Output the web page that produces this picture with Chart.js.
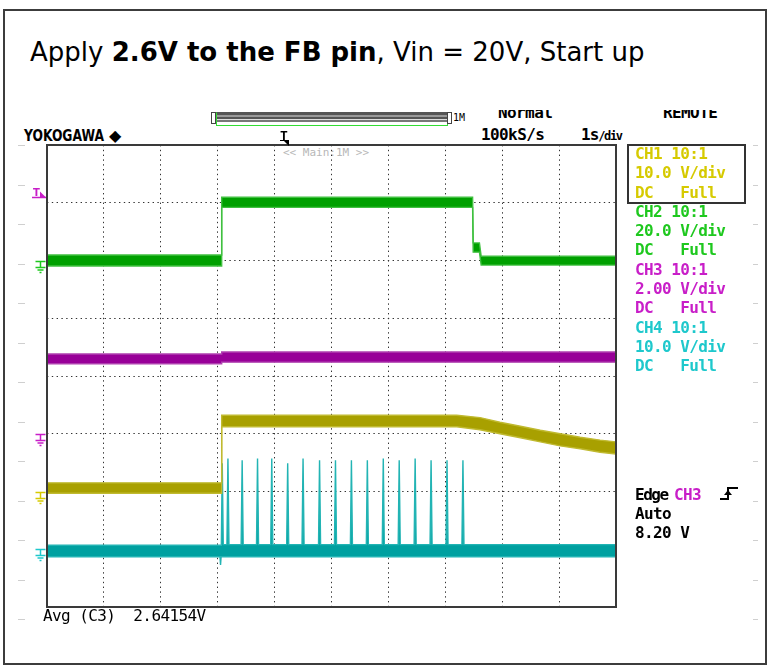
<!DOCTYPE html>
<html>
<head>
<meta charset="utf-8">
<title>Apply 2.6V to the FB pin, Vin = 20V, Start up</title>
<script src="https://cdn.jsdelivr.net/npm/chart.js@4.4.1/dist/chart.umd.min.js"></script>
<style>
  html, body { margin: 0; padding: 0; background: #fff; }
  #wrap { position: relative; width: 775px; height: 670px; overflow: hidden; }
  #frame { position: absolute; left: 3px; top: 9px; width: 764px; height: 656px; border: 2px solid #3c3c3c; box-sizing: border-box; }
  #scope { position: absolute; left: 0; top: 0; }
  #title { position: absolute; left: 30px; top: 39px; font-family: 'DejaVu Sans', sans-serif; font-size: 26px; line-height: 26px; color: #000; white-space: pre; }
  .lbl { position: absolute; white-space: pre; font-family: 'DejaVu Sans Mono', monospace; font-size: 16px; line-height: 16px; letter-spacing: -0.6px; color: #000; }
  .b { font-weight: bold; }
  .clip { position: absolute; overflow: hidden; height: 14px; top: 110px; }
  #panel { position: absolute; left: 635px; top: 144px; line-height: 19.3px; }
  #panelBox { position: absolute; left: 627px; top: 144px; width: 119px; height: 60px; border: 2px solid #333; box-sizing: border-box; }
  #yoko { position: absolute; left: 24px; top: 129px; font-family: 'DejaVu Sans', sans-serif; font-weight: bold; font-size: 15px; line-height: 15px; transform: scaleX(0.82); transform-origin: left top; white-space: pre; }
  #diamond { position: absolute; left: 109px; top: 128px; font-family: 'DejaVu Sans', sans-serif; font-size: 16px; line-height: 16px; }
  #main { position: absolute; left: 283px; top: 147px; font-family: 'DejaVu Sans Mono', monospace; font-size: 11px; line-height: 11px; color: #b8b8b8; white-space: pre; }
  #zbar { position: absolute; left: 216px; top: 112px; width: 232px; height: 14px; box-sizing: border-box; border: 1px solid #3d3; border-top-color: #555;
          background: linear-gradient(to bottom, #555 0 2px, #999 2px 4px, #555 4px 6px, #ddd 6px 7px, #777 7px 9px, #fff 9px 12px); }
  .zbox { position: absolute; top: 112px; width: 5px; height: 12px; border: 1px solid #444; box-sizing: border-box; background: #fff; }
</style>
</head>
<body>
<div id="wrap">
  <div id="frame"></div>
  <div id="title">Apply <b>2.6V to the FB pin</b>, Vin = 20V, Start up</div>

  <div class="zbox" style="left:211px"></div>
  <div id="zbar"></div>
  <div class="zbox" style="left:447px"></div>
  <div class="lbl" style="left:453px; top:113px; font-size:10px; line-height:10px; letter-spacing:0">1M</div>

  <div class="clip" style="left:498px; width:70px"><div class="lbl b" style="left:0; top:-5px">Normal</div></div>
  <div class="clip" style="left:663px; width:70px"><div class="lbl b" style="left:0; top:-5px">REMOTE</div></div>
  <div class="lbl b" style="left:481px; top:127px">100kS/s</div>
  <div class="lbl b" style="left:581px; top:127px; letter-spacing:-1px">1s<span style="font-size:12px; letter-spacing:-1.4px">/div</span></div>

  <div id="yoko">YOKOGAWA</div>
  <div id="diamond">&#9670;</div>
  <div id="main">&lt;&lt; Main:1M &gt;&gt;</div>

  <canvas id="scope" width="775" height="670"></canvas>

  <div id="panelBox"></div>
  <div id="panel" class="lbl b"></div>

  <div class="lbl b" style="left:635px; top:487px; letter-spacing:-1.5px">Edge</div>
  <div class="lbl b" id="trigSrc" style="left:674px; top:487px"></div>
  <svg style="position:absolute; left:719px; top:486px" width="22" height="16">
    <polyline points="1,13 9,13 9,2 19,2" fill="none" stroke="#000" stroke-width="2"/>
    <path d="M5,9 L9,4 L13,9 Z" fill="#000"/>
  </svg>
  <div class="lbl b" style="left:635px; top:506px">Auto</div>
  <div class="lbl b" id="trigLevel" style="left:635px; top:525px"></div>

  <div class="lbl" id="avg" style="left:43px; top:608px"></div>
</div>

<script>
// screen: 10 div x 1 s/div, 8 vertical div
const timeRange = [0, 10];
const divRange = [-4, 4];

// channel setup (CH1..CH4)
const chNames = ['CH1', 'CH2', 'CH3', 'CH4'];
const chProbe = ['10:1', '10:1', '10:1', '10:1'];
const chVoltsPerDiv = [10, 20, 2, 10];
const chGroundDiv = [-2, 2, -1, -3];
const chTextColor = ['#d6ca00', '#1ec81e', '#c81ec8', '#1ec8cc'];
const chFill = ['#a8a000', '#00a000', '#980098', '#00a0a0'];
const chEdge = ['#c0ba30', '#40c040', '#b040b0', '#22b4b4'];

// trigger
const trigChannel = 2;
const trigLevel = 8.2;
const trigTime = 4.16;
const avgCh3 = 2.64154;

// CH1 (yellow), noise band min/max in volts
const ch1Time = [0, 3.06, 3.07, 7.20, 7.61, 7.96, 8.32, 8.67, 9.02, 9.37, 9.72, 10];
const ch1Max = [1.5, 1.5, 13.2, 13.2, 12.8, 12.0, 11.3, 10.6, 10.0, 9.4, 8.9, 8.6];
const ch1Min = [-0.3, -0.3, 11.2, 11.2, 10.7, 10.0, 9.3, 8.6, 7.9, 7.4, 6.8, 6.5];

// CH2 (green)
const ch2Time = [0, 3.06, 3.07, 7.48, 7.49, 7.60, 7.63, 10];
const ch2Max = [1.9, 1.9, 21.9, 21.9, 6.1, 6.1, 1.5, 1.5];
const ch2Min = [-1.9, -1.9, 18.4, 18.4, 2.9, 2.9, -1.6, -1.6];

// CH3 (magenta)
const ch3Time = [0, 3.06, 3.07, 10];
const ch3Max = [2.76, 2.76, 2.83, 2.83];
const ch3Min = [2.42, 2.42, 2.48, 2.48];

// CH4 (cyan)
const ch4Time = [0, 3.06, 3.07, 10];
const ch4Max = [0.7, 0.7, 0.8, 0.8];
const ch4Min = [-1.3, -1.3, -1.3, -1.3];
const ch4SpikeTime = [3.08, 3.18, 3.43, 3.70, 3.95, 4.23, 4.50, 4.79, 5.07, 5.35, 5.63, 5.91, 6.19, 6.47, 6.75, 7.03, 7.31];
const ch4SpikePeak = [14.9, 15.7, 15.4, 15.7, 15.7, 14.9, 15.7, 15.4, 15.4, 15.4, 15.4, 15.7, 15.4, 15.7, 15.4, 15.4, 15.4];
const ch4DipTime = [3.05];
const ch4DipValue = [-2.7];

function toDiv(ch, v) {
  return chGroundDiv[ch] + v / chVoltsPerDiv[ch];
}

function stepAt(times, vals, t) {
  let v = vals[0];
  for (let i = 0; i < times.length; i++) if (times[i] <= t) v = vals[i];
  return v;
}

function bandDatasets(ch, pts) {
  return [
    { data: pts.map(p => ({ x: p.t, y: toDiv(ch, p.hi) })), borderColor: chEdge[ch], borderWidth: 1.4, fill: false },
    { data: pts.map(p => ({ x: p.t, y: toDiv(ch, p.lo) })), borderColor: chEdge[ch], borderWidth: 1.4, fill: '-1', backgroundColor: chFill[ch] }
  ];
}

function simplePts(times, max, min) {
  return times.map((t, i) => ({ t, hi: max[i], lo: min[i] }));
}

// cyan: base band plus switching spikes
const w = 0.018;
const ch4Pts = simplePts(ch4Time, ch4Max, ch4Min);
ch4SpikeTime.forEach((t, i) => {
  const hi = stepAt(ch4Time, ch4Max, t), lo = stepAt(ch4Time, ch4Min, t);
  ch4Pts.push({ t: t - w, hi, lo }, { t, hi: ch4SpikePeak[i], lo }, { t: t + w, hi, lo });
});
ch4DipTime.forEach((t, i) => {
  const hi = stepAt(ch4Time, ch4Max, t), lo = stepAt(ch4Time, ch4Min, t);
  ch4Pts.push({ t: t - 0.01, hi, lo }, { t, hi, lo: ch4DipValue[i] }, { t: t + 0.01, hi, lo });
});
ch4Pts.sort((a, b) => a.t - b.t);

const datasets = [
  ...bandDatasets(0, simplePts(ch1Time, ch1Max, ch1Min)),
  ...bandDatasets(1, simplePts(ch2Time, ch2Max, ch2Min)),
  ...bandDatasets(2, simplePts(ch3Time, ch3Max, ch3Min)),
  ...bandDatasets(3, ch4Pts)
];

// right side channel panel
document.getElementById('panel').innerHTML = chNames.map((n, i) =>
  `<span style="color:${chTextColor[i]}">${n} ${chProbe[i]}\n${chVoltsPerDiv[i].toPrecision(3)} V/div\nDC   Full</span>`
).join('\n');
document.getElementById('trigSrc').innerHTML = `<span style="color:${chTextColor[trigChannel]}">${chNames[trigChannel]}</span>`;
document.getElementById('trigLevel').textContent = trigLevel.toFixed(2) + ' V';
document.getElementById('avg').textContent = 'Avg (C3)  ' + avgCh3.toFixed(5) + 'V';

const scopeMarks = {
  id: 'scopeMarks',
  afterDatasetsDraw(chart) {
    const { ctx, chartArea: a, scales: { x, y } } = chart;
    ctx.save();

    // screen frame
    ctx.strokeStyle = '#3a3a3a';
    ctx.lineWidth = 2;
    ctx.strokeRect(a.left, a.top, a.right - a.left, a.bottom - a.top);

    // ground markers
    ctx.lineWidth = 1.5;
    chGroundDiv.forEach((g, i) => {
      const py = Math.round(y.getPixelForValue(g)) + 0.5;
      const px = a.left - 6.5;
      ctx.strokeStyle = chTextColor[i];
      ctx.beginPath();
      ctx.moveTo(px - 5, py); ctx.lineTo(px + 5, py);
      ctx.moveTo(px, py); ctx.lineTo(px, py + 6);
      ctx.moveTo(px - 5, py + 6); ctx.lineTo(px + 5, py + 6);
      ctx.moveTo(px - 3, py + 8.5); ctx.lineTo(px + 3, py + 8.5);
      ctx.moveTo(px - 1, py + 11); ctx.lineTo(px + 1, py + 11);
      ctx.stroke();
    });

    // trigger level marker
    const ty = Math.round(y.getPixelForValue(toDiv(trigChannel, trigLevel))) + 0.5;
    ctx.fillStyle = chTextColor[trigChannel];
    ctx.strokeStyle = chTextColor[trigChannel];
    ctx.font = 'bold 10px "DejaVu Sans"';
    ctx.textBaseline = 'alphabetic';
    ctx.fillText('T', 33, ty - 2);
    ctx.beginPath();
    ctx.moveTo(32, ty); ctx.lineTo(a.left - 1, ty);
    ctx.stroke();
    ctx.beginPath();
    ctx.moveTo(40, ty - 6); ctx.lineTo(a.left - 1, ty); ctx.lineTo(40, ty);
    ctx.closePath();
    ctx.fill();

    // trigger position marker
    const tx = Math.round(x.getPixelForValue(trigTime));
    ctx.fillStyle = '#000';
    ctx.font = 'bold 13px "DejaVu Sans Mono"';
    ctx.textAlign = 'center';
    ctx.fillText('T', tx, 140);
    ctx.fillRect(tx - 4, 140, 9, 1);
    ctx.beginPath();
    ctx.moveTo(tx, 141); ctx.lineTo(tx + 5, 141); ctx.lineTo(tx + 5, 146);
    ctx.closePath();
    ctx.fill();

    // faint side ticks of the screenshot
    ctx.fillStyle = '#cfcfcf';
    for (let k = 0; k <= 12; k++) {
      const yy = Math.round(145 + k * 39.5);
      ctx.fillRect(18, yy, 7, 1);
      ctx.fillRect(753, yy, 5, 1);
    }
    ctx.restore();
  }
};

const gridOpts = { color: '#333', lineWidth: 1, drawTicks: false };
const borderOpts = { display: false, dash: [1.4, 3.4] };

new Chart(document.getElementById('scope'), {
  type: 'line',
  data: { datasets },
  options: {
    responsive: false,
    animation: false,
    layout: { padding: { left: 47, top: 145, right: 159, bottom: 63 } },
    plugins: { legend: { display: false }, tooltip: { enabled: false } },
    elements: { point: { radius: 0 }, line: { tension: 0 } },
    scales: {
      x: { type: 'linear', min: timeRange[0], max: timeRange[1], ticks: { display: false, stepSize: 1 }, grid: gridOpts, border: borderOpts },
      y: { type: 'linear', min: divRange[0], max: divRange[1], ticks: { display: false, stepSize: 1 }, grid: gridOpts, border: borderOpts }
    }
  },
  plugins: [scopeMarks]
});
</script>
</body>
</html>
